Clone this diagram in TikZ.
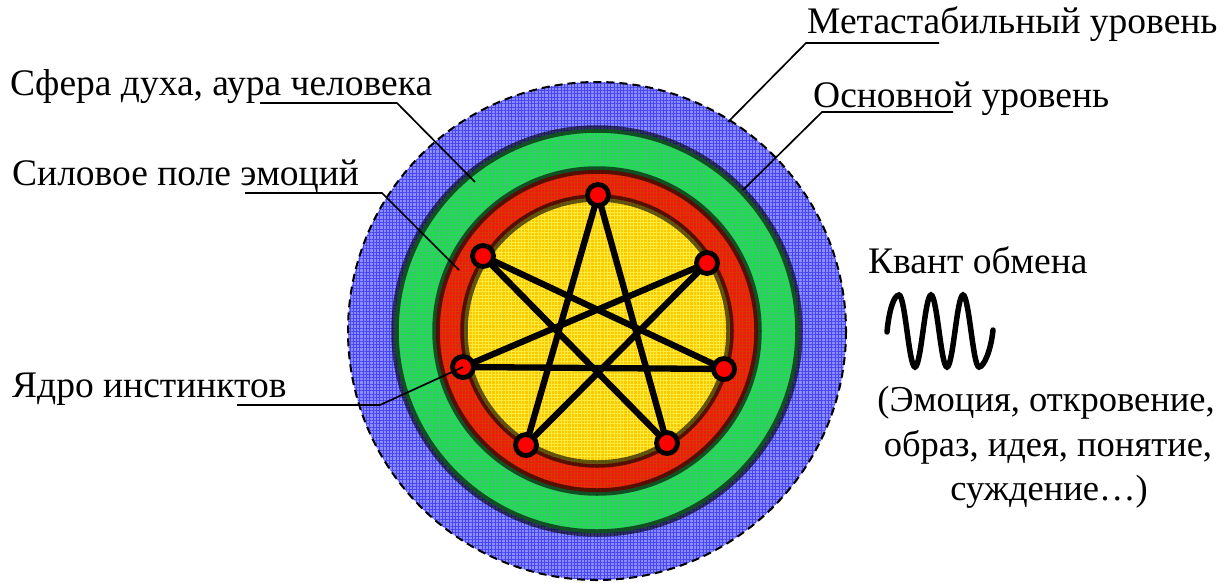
\documentclass[tikz,border=0pt]{standalone}
\usepackage{fontspec}
\setmainfont{Liberation Serif}
\usetikzlibrary{patterns.meta}
\definecolor{blueB}{RGB}{140,140,255}
\definecolor{blueL}{RGB}{70,70,245}
\definecolor{greenB}{RGB}{60,195,115}
\definecolor{greenL}{RGB}{25,225,70}
\definecolor{redB}{RGB}{240,25,15}
\definecolor{redL}{RGB}{215,55,0}
\definecolor{yelB}{RGB}{252,200,0}
\definecolor{yelL}{RGB}{255,235,60}
\pgfdeclarelayer{rings}
\pgfdeclarelayer{lines}
\pgfsetlayers{rings,lines,main}
\begin{document}
\begin{tikzpicture}[x=1pt,y=-1pt,
  lbl/.style={inner sep=0pt,anchor=base west,font=\fontsize{37.5}{45}\selectfont},
  lblc/.style={inner sep=0pt,anchor=base,font=\fontsize{36.5}{45}\selectfont},
  leader/.style={draw=black,line width=1.7pt},
  band/.style={draw=black,draw opacity=0.62,line width=7.5pt},
  grid/.style={pattern={Hatch[angle=0,distance=3.3pt,line width=0.45pt]},pattern color=#1},
  pt/.style={circle,draw=black,fill=red,line width=4.8pt,minimum size=21pt,inner sep=0pt},
  starline/.style={draw=black,line width=6.3pt},
  wave/.style={draw=black,line width=5.5pt,line cap=round}]
\useasboundingbox (0,0) rectangle (1231,582);
\coordinate (c) at (597,331);
% rings
\begin{pgfonlayer}{rings}
\fill[blueB] (c) circle[radius=249];
\fill[grid=blueL] (c) circle[radius=249];
\draw[black,line width=2pt,dash pattern=on 8pt off 5pt] (c) circle[radius=249];
\fill[greenB] (c) circle[radius=202];
\fill[grid=greenL] (c) circle[radius=202];
\draw[band] (c) circle[radius=202];
\fill[redB] (c) circle[radius=161];
\fill[grid=redL] (c) circle[radius=161];
\draw[band] (c) circle[radius=161];
\fill[yelB] (c) circle[radius=133];
\fill[grid=yelL] (c) circle[radius=133];
\draw[band] (c) circle[radius=133];
\end{pgfonlayer}
% star points
\node[pt] (p1) at (598,195) {};
\node[pt] (p2) at (483,256) {};
\node[pt] (p3) at (707,263) {};
\node[pt] (p4) at (463,367) {};
\node[pt] (p5) at (724,369) {};
\node[pt] (p6) at (526,445) {};
\node[pt] (p7) at (667,443) {};
\begin{pgfonlayer}{lines}
\draw[starline] (p1.center) -- (p6.center);
\draw[starline] (p1.center) -- (p7.center);
\draw[starline] (p2.center) -- (p5.center);
\draw[starline] (p2.center) -- (p7.center);
\draw[starline] (p3.center) -- (p4.center);
\draw[starline] (p3.center) -- (p6.center);
\draw[starline] (p4.center) -- (p5.center);
\end{pgfonlayer}
% labels
\node[lbl] (tmeta) at (807,33) {Метастабильный уровень};
\node[lbl] (tosn) at (813,107) {Основной уровень};
\node[lbl] (tsph) at (10,95) {Сфера духа, аура человека};
\node[lbl] (tsil) at (12,185) {Силовое поле эмоций};
\node[lbl] (tyad) at (12,397) {Ядро инстинктов};
\node[lbl] (tkv) at (868,273) {Квант обмена};
\node[lblc] (tl1) at (1046,411) {(Эмоция, откровение,};
\node[lblc] (tl2) at (1048,456) {образ, идея, понятие,};
\node[lblc] (tl3) at (1049,500) {суждение…)};
% leaders
\coordinate (m1) at (939,43); \coordinate (m2) at (806,43); \coordinate (m3) at (728,122);
\draw[leader] (m1) -- (m2) -- (m3);
\coordinate (o1) at (953,112); \coordinate (o2) at (822,112); \coordinate (o3) at (743,190);
\draw[leader] (o1) -- (o2) -- (o3);
\coordinate (s1) at (260,103); \coordinate (s2) at (397,103); \coordinate (s3) at (475,182);
\draw[leader] (s1) -- (s2) -- (s3);
\coordinate (f1) at (245,193); \coordinate (f2) at (382,193); \coordinate (f3) at (459,270);
\draw[leader] (f1) -- (f2) -- (f3);
\coordinate (y1) at (237,405); \coordinate (y2) at (380,405);
\draw[leader] (y1) -- (y2) -- (p4.center);
% wave
\coordinate (w0) at (887,332);
\coordinate (w1) at (993,330);
\draw[wave] (w0) .. controls (889,310) and (894,295) .. (899,295)
  .. controls (905,295) and (909,367) .. (915,367)
  .. controls (921,367) and (925,295) .. (931,295)
  .. controls (937,295) and (941,367) .. (947,367)
  .. controls (953,367) and (957,295) .. (963,295)
  .. controls (969,295) and (973,367) .. (979,367)
  .. controls (984,367) and (991,350) .. (w1);
\end{tikzpicture}
\end{document}
